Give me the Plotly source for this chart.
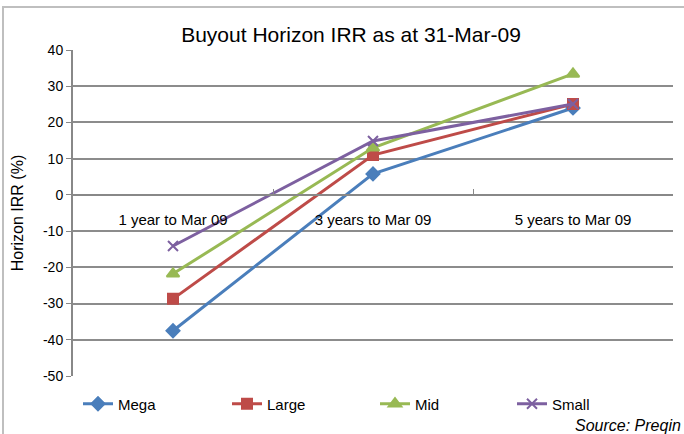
import plotly.graph_objects as go

categories = ["1 year to Mar 09", "3 years to Mar 09", "5 years to Mar 09"]
mega = [-37.5, 5.8, 24.0]
large = [-28.7, 11.0, 25.1]
mid = [-21.8, 13.0, 33.4]
small = [-14.1, 14.9, 25.1]
y_ticks = [40, 30, 20, 10, 0, -10, -20, -30, -40, -50]

series = [
    ("Mega", mega, "#4a7ebb", "diamond", 10),
    ("Large", large, "#be4b48", "square", 10),
    ("Mid", mid, "#98b954", "triangle-up", 11),
    ("Small", small, "#7d60a0", "x-thin", 10),
]

L, R, T, B = 73, 11, 50, 58
W, H = 684, 434
pw, ph = W - L - R, H - T - B
zero_pos = (50 - 0) / 90

legend_ids = ["legend", "legend2", "legend3", "legend4"]
legend_px = [78, 227, 375, 512]

fig = go.Figure()
for (name, vals, col, sym, sz), lid in zip(series, legend_ids):
    fig.add_trace(go.Scatter(
        x=categories, y=vals, name=name, mode="lines+markers",
        line=dict(color=col, width=3),
        marker=dict(symbol=sym, size=sz, color=col,
                    line=dict(color=col, width=2)),
        legend=lid,
    ))

legend_layout = {}
for lid, px in zip(legend_ids, legend_px):
    legend_layout[lid] = dict(orientation="h", x=(px - L) / pw, xanchor="left",
                              y=-(404 - (T + ph)) / ph, yanchor="middle",
                              font=dict(size=15), bgcolor="rgba(0,0,0,0)",
                              itemwidth=30)

fig.update_layout(
    width=W, height=H,
    margin=dict(l=L, r=R, t=T, b=B, autoexpand=False),
    paper_bgcolor="white", plot_bgcolor="white",
    font=dict(family="Liberation Sans, Arial, sans-serif", size=15, color="#000000"),
    title=dict(text="Buyout Horizon IRR as at 31-Mar-09", x=351 / W,
               xanchor="center", y=1 - 35 / H, yanchor="middle",
               font=dict(size=21, color="#000000")),
    xaxis=dict(
        type="category", range=[-0.5, 2.5], anchor="free", position=zero_pos,
        showgrid=False, showline=True, linecolor="#888888", linewidth=2,
        ticks="inside", ticklen=5, tickcolor="#888888", tickwidth=1,
        tickson="boundaries", zeroline=False, ticklabelstandoff=11,
        tickfont=dict(size=15), fixedrange=True,
    ),
    yaxis=dict(
        range=[-50, 40], tickvals=y_ticks, ticktext=[str(v) for v in y_ticks],
        showgrid=True, gridcolor="#8c8c8c",
        gridwidth=2, zeroline=False, showline=True, linecolor="#888888",
        linewidth=2, ticks="outside", ticklen=5, tickcolor="#888888",
        tickfont=dict(size=14),
        title=dict(text="Horizon IRR (%)", font=dict(size=16), standoff=15),
    ),
    showlegend=True,
    annotations=[dict(text="<i>Source: Preqin</i>", xref="paper", yref="paper",
                      x=(683 - L) / pw, y=-(425 - (T + ph)) / ph,
                      xanchor="right", yanchor="middle", showarrow=False,
                      font=dict(size=16))],
    shapes=[dict(type="rect", xref="paper", yref="paper",
                 x0=(3 - L) / pw, x1=(720 - L) / pw,
                 y0=-(470 - (T + ph)) / ph, y1=1 + (T - 7) / ph,
                 line=dict(color="#bfbfbf", width=2), layer="below")],
    **legend_layout,
)

fig.write_html("out.html", config={"displayModeBar": False},
               post_script="document.body.style.margin='0';document.body.style.overflow='hidden';")
